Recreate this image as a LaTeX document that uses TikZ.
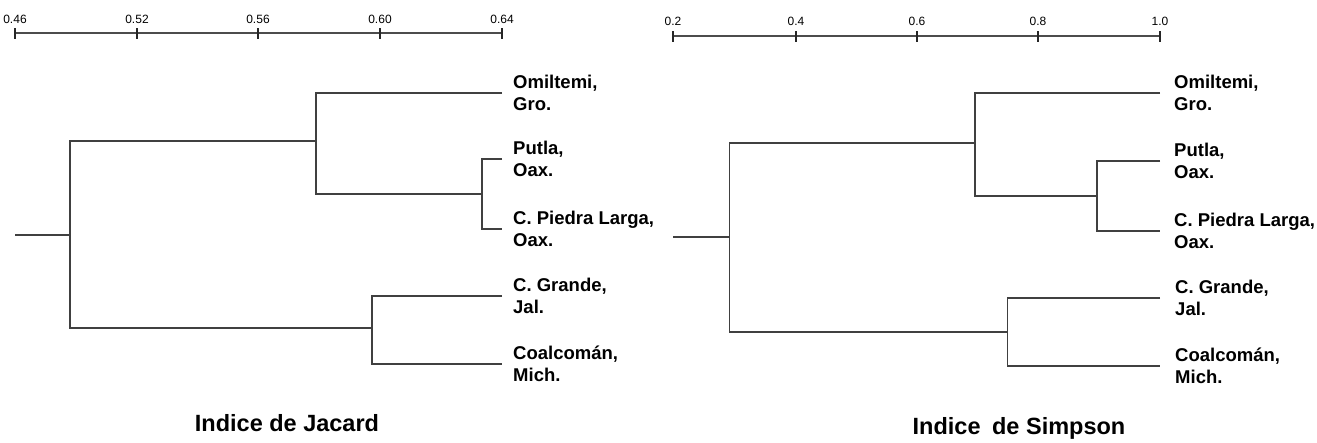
\documentclass[tikz,border=0pt]{standalone}
\usepackage{fontspec}
\setmainfont{Liberation Sans}
\begin{document}
\begin{tikzpicture}[x=1pt,y=-1pt,line join=miter,
    tree/.style={draw=black!75,line width=1.6pt},
    ruler/.style={draw=black!70,line width=1.8pt},
    tickmark/.style={draw=black!85,line width=1.5pt},
    ticklabel/.style={inner sep=0pt,font=\fontsize{12}{12}\selectfont},
    leaf/.style={anchor=west,align=left,inner ysep=0pt,inner xsep=11pt,
      font=\bfseries\fontsize{18.5}{22.5}\selectfont},
    title/.style={inner sep=0pt,font=\bfseries\fontsize{23.5}{24}\selectfont}]
  \useasboundingbox (0,0) rectangle (1317,442);

  % scale bars
  \draw[ruler] (15,33) coordinate (ja) -- (502,33) coordinate (jb);
  \foreach \x/\v in {15/0.46,137/0.52,258/0.56,380/0.60,502/0.64} {
    \draw[tickmark] (\x,28) -- (\x,39);
    \node[ticklabel] (jt\x) at (\x,19.5) {\v};
  }
  \draw[ruler] (673,36) coordinate (sa) -- (1160,36) coordinate (sb);
  \foreach \x/\v in {673/0.2,796/0.4,917/0.6,1038/0.8,1160/1.0} {
    \draw[tickmark] (\x,31) -- (\x,42);
    \node[ticklabel] (st\x) at (\x,21) {\v};
  }

  % Jacard tree
  \coordinate (J0) at (15,235);
  \coordinate (J1) at (70,235);
  \coordinate (J2) at (316,141);
  \coordinate (J3) at (482,194);
  \coordinate (J4) at (372,328);
  \node[leaf] (jomil) at (502,93)  {Omiltemi,\\Gro.};
  \node[leaf] (jputl) at (502,159) {Putla,\\Oax.};
  \node[leaf] (jpied) at (502,229) {C. Piedra Larga,\\Oax.};
  \node[leaf] (jgran) at (502,296) {C. Grande,\\Jal.};
  \node[leaf] (jcoal) at (502,364) {Coalcomán,\\Mich.};
  \draw[tree] (J0) -- (J1);
  \draw[tree] (J2) -| (J1) |- (J4);
  \draw[tree] (jomil.west) -| (J2) |- (J3);
  \draw[tree] (jputl.west) -| (J3) |- (jpied.west);
  \draw[tree] (jgran.west) -| (J4) |- (jcoal.west);

  % Simpson tree
  \coordinate (S0) at (673,237);
  \coordinate (S1) at (729.5,237);
  \coordinate (S2) at (975,143);
  \coordinate (S3) at (1097,196);
  \coordinate (S4) at (1007.5,332);
  \node[leaf,inner xsep=14pt] (somil) at (1160,93)  {Omiltemi,\\Gro.};
  \node[leaf,inner xsep=14pt] (sputl) at (1160,161) {Putla,\\Oax.};
  \node[leaf,inner xsep=14pt] (spied) at (1160,231) {C. Piedra Larga,\\Oax.};
  \node[leaf,inner xsep=15pt] (sgran) at (1160,298) {C. Grande,\\Jal.};
  \node[leaf,inner xsep=15pt] (scoal) at (1160,366) {Coalcomán,\\Mich.};
  \draw[tree] (S0) -- (S1);
  \draw[tree] (S2) -| (S1) |- (S4);
  \draw[tree] (somil.west) -| (S2) |- (S3);
  \draw[tree] (sputl.west) -| (S3) |- (spied.west);
  \draw[tree] (sgran.west) -| (S4) |- (scoal.west);

  \node[title] (jtitle) at (287,423) {Indice de Jacard};
  \node[title] (stitle) at (1019,428) {Indice\hspace{5pt} de Simpson};
\end{tikzpicture}
\end{document}
